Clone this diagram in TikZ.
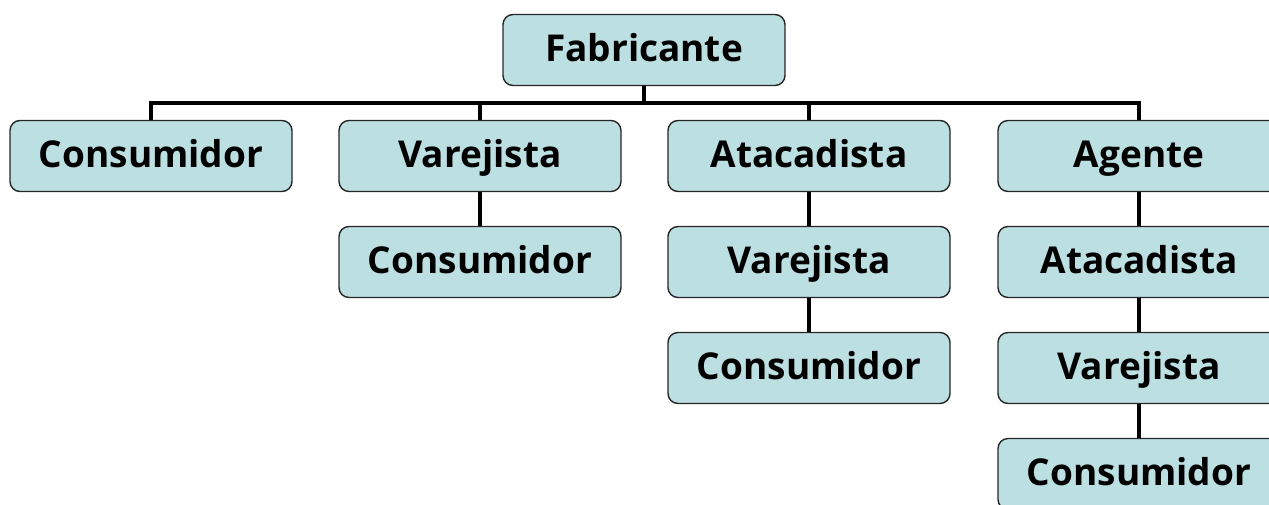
\documentclass[tikz,border=0pt]{standalone}
\usepackage{fontspec}
\setmainfont{Open Sans}
\usepackage{tikz}
\definecolor{boxfill}{RGB}{188,223,226}

\begin{document}
\begin{tikzpicture}[x=1pt,y=-1pt,
        canal/.style={draw=black!85,line width=1.4pt,fill=boxfill,rounded corners=10pt,
          minimum width=282pt,minimum height=71pt,inner sep=0pt,
          text height=27pt,text depth=5pt,
          font=\fontsize{37}{40}\selectfont\bfseries},
        elo/.style={line width=3.2pt}]
        \path[use as bounding box,clip] (0,0) rectangle (1269,504);
        \node[canal] (Fab) at (644,50) {Fabricante} ;
        \coordinate (barra) at (644,103) ;
        % canal direto
        \node[canal] (C1) at (151,156) {Consumidor} ;
        % um nivel
        \node[canal] (V2) at (480,156) {Varejista} ;
        \node[canal] (C2) at (480,262) {Consumidor} ;
        % dois niveis
        \node[canal] (A3) at (809,156) {Atacadista} ;
        \node[canal] (V3) at (809,262) {Varejista} ;
        \node[canal] (C3) at (809,368) {Consumidor} ;
        % tres niveis
        \node[canal] (G4) at (1139,156) {Agente} ;
        \node[canal] (A4) at (1139,262) {Atacadista} ;
        \node[canal] (V4) at (1139,368) {Varejista} ;
        \node[canal] (C4) at (1139,474) {Consumidor} ;
        \draw[elo] (Fab.south) -- (barra) ;
        \draw[elo] (C1.north) |- (barra) -| (G4.north) ;
        \draw[elo]
        (V2.north) -- (V2.north |- barra)
        (A3.north) -- (A3.north |- barra)
        (V2) -- (C2)
        (A3) -- (V3)
        (V3) -- (C3)
        (G4) -- (A4)
        (A4) -- (V4)
        (V4) -- (C4)
        ;
      \end{tikzpicture}
\end{document}
